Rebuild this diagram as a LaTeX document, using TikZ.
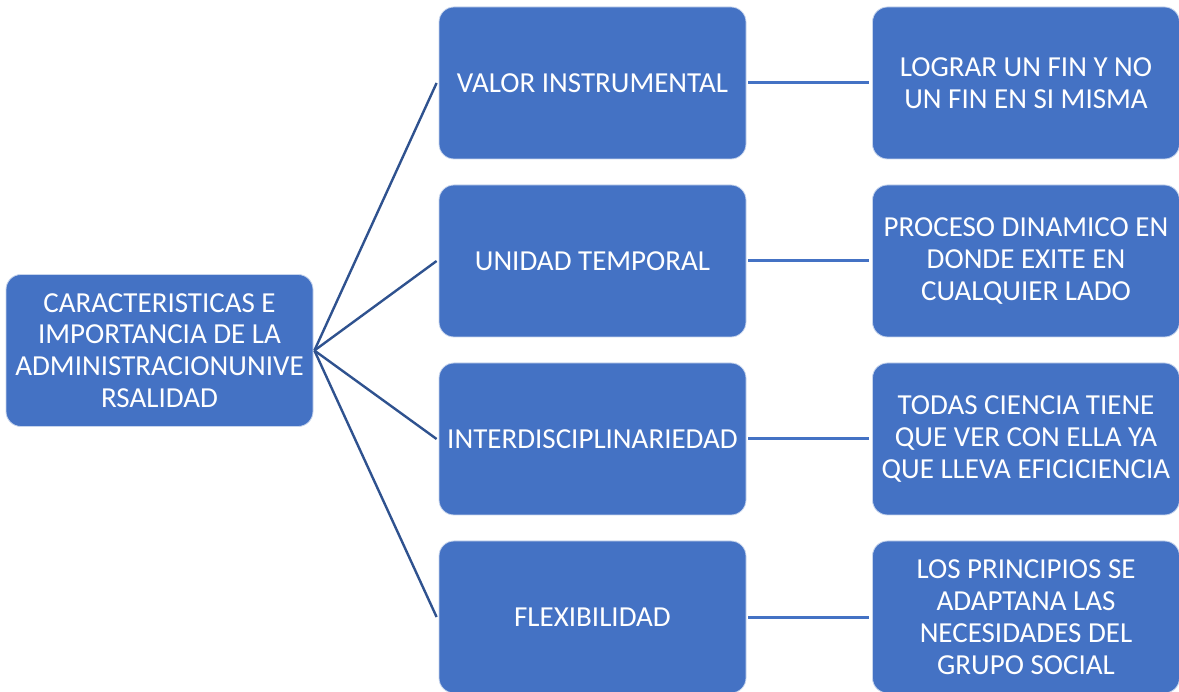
\documentclass[tikz,border=0pt]{standalone}
\usepackage{fontspec}
\setmainfont{Carlito}
\definecolor{boxblue}{HTML}{4472C4}
\definecolor{darkline}{HTML}{2F528F}
\begin{document}
\begin{tikzpicture}[x=1pt,y=-1pt,
  box/.style={rectangle, rounded corners=15pt, fill=boxblue, draw=white!70!boxblue, line width=0.8pt,
    minimum width=307pt, minimum height=152pt, inner sep=0pt, align=center, text=white,
    font=\fontsize{29}{31.8}\selectfont},
  rootline/.style={draw=darkline, line width=2.4pt},
  sideline/.style={draw=boxblue, line width=3pt}]
\useasboundingbox (0,0) rectangle (1179,692);
\fill[white] (0,0) rectangle (1179,692);
\node[box] (root) at (159.5,350.5) {CARACTERISTICAS E\\IMPORTANCIA DE LA\\ADMINISTRACIONUNIVE\\RSALIDAD};
\node[box] (m1) at (592.5,83) {VALOR INSTRUMENTAL};
\node[box] (m2) at (592.5,261) {UNIDAD TEMPORAL};
\node[box] (m3) at (592.5,439) {INTERDISCIPLINARIEDAD};
\node[box] (m4) at (592.5,617) {FLEXIBILIDAD};
\node[box] (r1) at (1026,83) {LOGRAR UN FIN Y NO\\UN FIN EN SI MISMA};
\node[box] (r2) at (1026,261) {PROCESO DINAMICO EN\\DONDE EXITE EN\\CUALQUIER LADO};
\node[box] (r3) at (1026,439) {TODAS CIENCIA TIENE\\QUE VER CON ELLA YA\\QUE LLEVA EFICICIENCIA};
\node[box] (r4) at (1026,617) {LOS PRINCIPIOS SE\\ADAPTANA LAS\\NECESIDADES DEL\\GRUPO SOCIAL};
\foreach \m in {m1,m2,m3,m4}{
  \draw[rootline] ([xshift=1pt]root.east) -- ([xshift=-2pt]\m.west);
}
\foreach \m/\r in {m1/r1,m2/r2,m3/r3,m4/r4}{
  \draw[sideline] ([xshift=2pt]\m.east) -- ([xshift=-3pt]\r.west);
}
\end{tikzpicture}
\end{document}
